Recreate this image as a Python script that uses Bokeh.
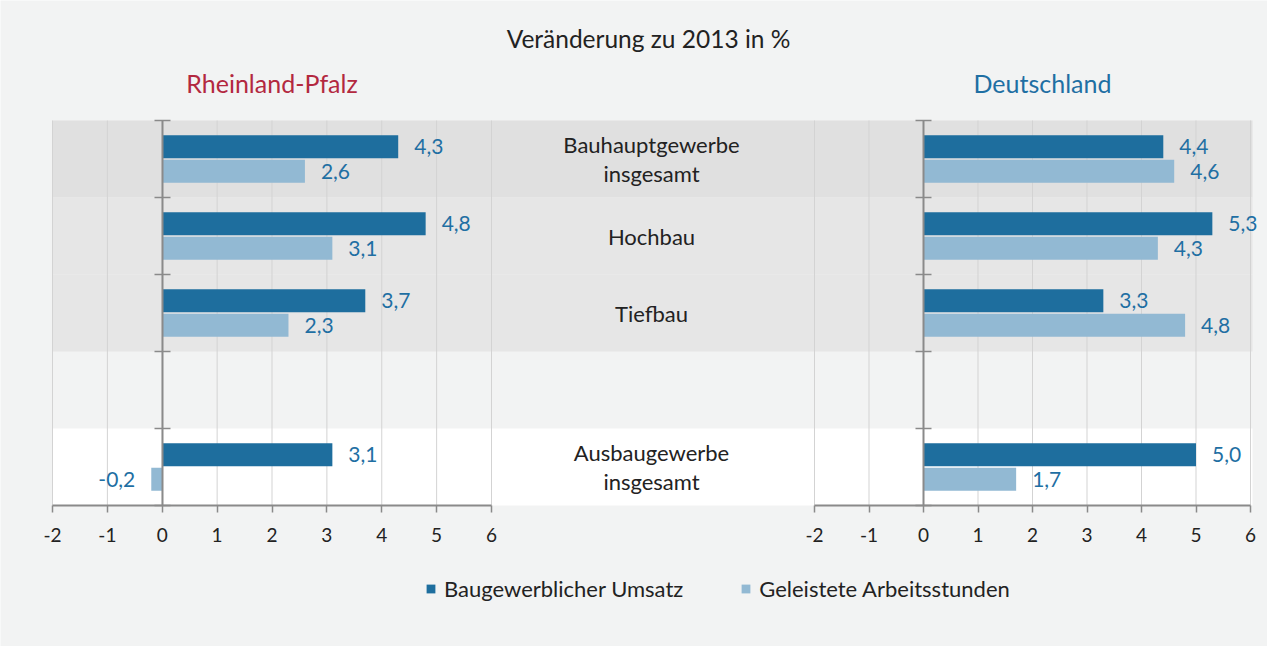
from bokeh.plotting import figure
from bokeh.models import (Range1d, LinearAxis, FixedTicker, BoxAnnotation,
                          Label, Legend, LegendItem, ColumnDataSource, CustomJSTickFormatter)
from bokeh.core.properties import value
from bokeh.embed import file_html
from bokeh.resources import INLINE

# ---------------- data ----------------
categories = ["Bauhauptgewerbe\ninsgesamt", "Hochbau", "Tiefbau", None, "Ausbaugewerbe\ninsgesamt"]
rlp_umsatz = [4.3, 4.8, 3.7, None, 3.1]
rlp_stunden = [2.6, 3.1, 2.3, None, -0.2]
de_umsatz = [4.4, 5.3, 3.3, None, 5.0]
de_stunden = [4.6, 4.3, 4.8, None, 1.7]
x_ticks = [-2, -1, 0, 1, 2, 3, 4, 5, 6]
series_names = ["Baugewerblicher Umsatz", "Geleistete Arbeitsstunden"]
panel_titles = ["Rheinland-Pfalz", "Deutschland"]
chart_title = "Veränderung zu 2013 in %"

# ---------------- style / layout ----------------
FONT = "Lato"
BG = "#f2f3f3"
DARK = "#1e6e9e"
LIGHT = "#92b9d3"
LABEL_BLUE = "#1f6fa3"
RED = "#b3283f"
TXT = "#222222"
GRID = "#d3d3d3"
AXIS = "#8a8a8a"
BAND_COLORS = ["#e0e0e0", "#e6e6e6", "#e6e6e6", None, "#ffffff"]

W, H = 1267, 646
BAND_L, BAND_R = 52, 1252          # horizontal extent of the row bands (px)
BAR_T, BAR_B = 120, 505            # vertical extent of the plotting rows (px)
LEFT_PANEL = (52, 491)             # px of x=-2 and x=6, left panel
RIGHT_PANEL = (814, 1250)          # px of x=-2 and x=6, right panel
XMIN, XMAX = x_ticks[0], x_ticks[-1]

n = len(categories)
row_px = (BAR_B - BAR_T) / n
sL = (LEFT_PANEL[1] - LEFT_PANEL[0]) / (XMAX - XMIN)
sR = (RIGHT_PANEL[1] - RIGHT_PANEL[0]) / (XMAX - XMIN)
l_start = XMIN - LEFT_PANEL[0] / sL
r_start = XMIN - RIGHT_PANEL[0] / sR
y_start = -(H - BAR_B) / row_px
y_end = n + BAR_T / row_px

p = figure(width=W, height=H, output_backend="svg", toolbar_location=None,
           x_range=Range1d(l_start, l_start + W / sL),
           y_range=Range1d(y_start, y_end),
           x_axis_location=None, y_axis_location=None,
           min_border_left=0, min_border_right=0, min_border_top=0, min_border_bottom=0)
p.extra_x_ranges = {"right": Range1d(r_start, r_start + W / sR)}
p.background_fill_color = BG
p.border_fill_color = BG
p.outline_line_color = None
p.xgrid.visible = False
p.ygrid.visible = False


def xL(px):
    return l_start + px / sL


def xR(px):
    return r_start + px / sR


def yv(py):
    return n - (py - BAR_T) / row_px


# background bands
for i, c in enumerate(BAND_COLORS):
    if c is None:
        continue
    p.add_layout(BoxAnnotation(left=xL(BAND_L), right=xL(BAND_R), top=n - i, bottom=n - i - 1,
                               fill_color=c, fill_alpha=1, line_color=None, level="underlay"))

# vertical grid lines (only over the rows)
for rn in ["default", "right"]:
    p.segment(x0=x_ticks, x1=x_ticks, y0=[0] * len(x_ticks), y1=[n] * len(x_ticks),
              line_color=GRID, line_width=1, x_range_name=rn)

BAR_H = 0.3
DODGE = 0.16
legend_renderers = []
for rn, umsatz, stunden in [("default", rlp_umsatz, rlp_stunden), ("right", de_umsatz, de_stunden)]:
    for vals, color, d in [(umsatz, DARK, DODGE), (stunden, LIGHT, -DODGE)]:
        ys, xs = [], []
        for i, v in enumerate(vals):
            if v is None:
                continue
            ys.append(n - 0.5 - i + d)
            xs.append(v)
        txt = [f"{v:.1f}".replace(".", ",") for v in xs]
        src = ColumnDataSource(dict(y=ys, right=xs))
        r = p.hbar(y="y", left=0, right="right", height=BAR_H, source=src,
                   fill_color=color, line_color=None, x_range_name=rn)
        if rn == "default":
            legend_renderers.append(r)
        for sign, off, align in [(1, 16, "left"), (-1, -16, "right")]:
            sel = [k for k, x in enumerate(xs) if (x >= 0) == (sign > 0)]
            if not sel:
                continue
            s = ColumnDataSource(dict(x=[xs[k] for k in sel], y=[ys[k] for k in sel],
                                      t=[txt[k] for k in sel]))
            p.text(x="x", y="y", text="t", source=s, x_offset=off, text_align=align,
                   text_baseline="middle", text_font=value(FONT), text_font_size="21px",
                   text_color=LABEL_BLUE, x_range_name=rn)

# category labels in the middle
cy = [n - 0.5 - i for i, c in enumerate(categories) if c is not None]
ct = [c for c in categories if c is not None]
p.text(x=[xL(651)] * len(ct), y=cy, text=ct, text_align="center", text_baseline="middle",
       text_font=value(FONT), text_font_size="22px", text_color=TXT, text_line_height=1.05)

# axes
for rn in ["default", "right"]:
    ax = LinearAxis(x_range_name=rn, bounds=(XMIN, XMAX), ticker=FixedTicker(ticks=x_ticks),
                    formatter=CustomJSTickFormatter(code="return tick.toString()"),
                    fixed_location=0, axis_line_color=AXIS, axis_line_width=2,
                    major_tick_line_color=AXIS, major_tick_line_width=1.5,
                    major_tick_in=0, major_tick_out=7, minor_tick_line_color=None,
                    major_label_standoff=15, major_label_text_font=FONT,
                    major_label_text_font_size="19px", major_label_text_color=TXT)
    p.add_layout(ax, "below")
    yax = LinearAxis(x_range_name=rn, bounds=(0, n), ticker=FixedTicker(ticks=list(range(n + 1))),
                     formatter=CustomJSTickFormatter(code="return ''"),
                     fixed_location=0, axis_line_color=AXIS, axis_line_width=2,
                     major_tick_line_color=AXIS, major_tick_line_width=1.5,
                     major_tick_in=8, major_tick_out=8, minor_tick_line_color=None)
    p.add_layout(yax, "left")

# titles
p.add_layout(Label(x=xL(648), y=yv(38), text=chart_title, text_align="center",
                   text_baseline="middle", text_font=FONT, text_font_size="24.5px", text_color=TXT))
p.add_layout(Label(x=(XMIN + XMAX) / 2, y=yv(82), text=panel_titles[0], text_align="center",
                   text_baseline="middle", text_font=FONT, text_font_size="25px", text_color=RED))
p.add_layout(Label(x=xR(1042), y=yv(82), text=panel_titles[1], x_range_name="right",
                   text_align="center", text_baseline="middle", text_font=FONT,
                   text_font_size="25px", text_color=LABEL_BLUE))

# legend
legend = Legend(items=[LegendItem(label=series_names[k], renderers=[legend_renderers[k]]) for k in range(2)],
                location=(425, H - 602), orientation="horizontal",
                glyph_width=11, glyph_height=11, label_standoff=8, spacing=57,
                padding=0, margin=0, border_line_color=None, background_fill_alpha=0,
                label_text_font=FONT, label_text_font_size="22px", label_text_color=TXT)
p.add_layout(legend)

open("out.html", "w").write(file_html(p, INLINE))
